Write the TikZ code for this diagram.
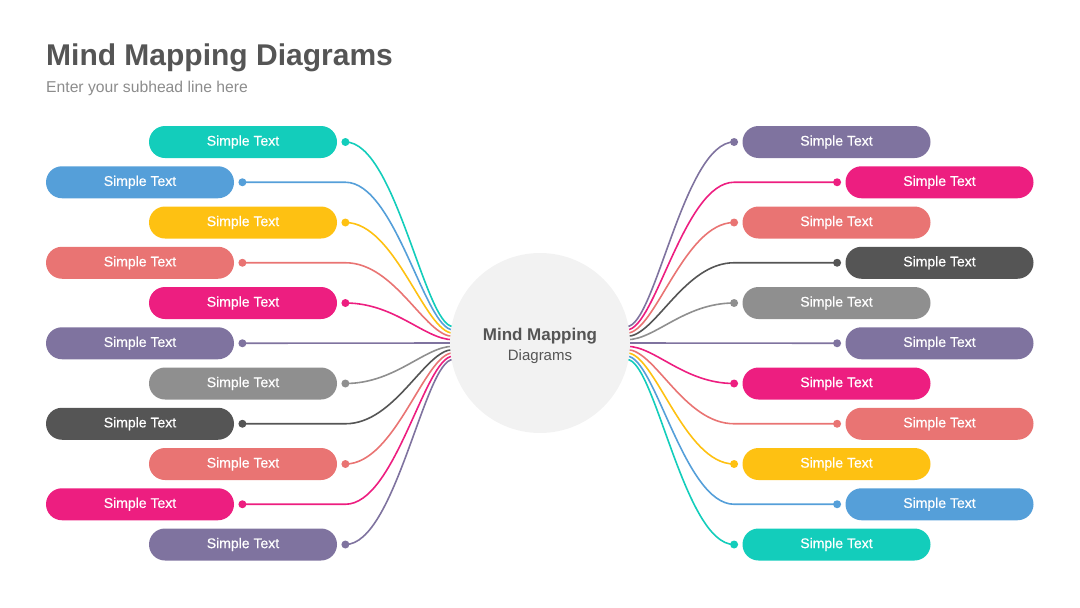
\documentclass[tikz,border=0pt]{standalone}
\usepackage{fontspec}
\setmainfont{Liberation Sans}
\newfontfamily\pillfont[FakeBold=0.5]{Liberation Sans}
\usepackage{xcolor}
\definecolor{cTeal}{HTML}{13CDBB}
\definecolor{cBlue}{HTML}{559FD9}
\definecolor{cYellow}{HTML}{FEC112}
\definecolor{cSalmon}{HTML}{E97473}
\definecolor{cPink}{HTML}{ED1E80}
\definecolor{cPurple}{HTML}{7F739F}
\definecolor{cGray}{HTML}{8F8F8F}
\definecolor{cDark}{HTML}{555555}
\definecolor{cHub}{HTML}{F2F2F2}
\definecolor{cTitle}{HTML}{555555}
\definecolor{cSub}{HTML}{8C8C8C}
\usepackage{tikz}
\usetikzlibrary{positioning,calc,backgrounds}
\tikzset{
  node-pill/.style={fill=#1,rounded corners=16pt,minimum width=188pt,
    minimum height=32pt,inner sep=0pt,text=white,font=\pillfont\fontsize{14}{16}\selectfont},
  node-dot/.style={circle,fill=#1,minimum size=8pt,inner sep=0pt},
  node-hub/.style={circle,fill=cHub,minimum size=180pt,inner sep=0pt,
    align=center,text=cTitle},
  wire/.style={draw=#1,line width=1.6pt},
  % S-curves into and out of the hub
  to-hub/.style={to path={.. controls ($(\tikztostart)+(50,0)$) and
    ($(\tikztotarget)+(-28,0)$) .. (\tikztotarget)}},
  from-hub/.style={to path={.. controls ($(\tikztostart)+(28,0)$) and
    ($(\tikztotarget)+(-50,0)$) .. (\tikztotarget)}},
}

\begin{document}
\begin{tikzpicture}[x=1pt,y=-1pt]
  \useasboundingbox (0,0) rectangle (1080,608);
  \node[anchor=base west,inner sep=0pt,text=cTitle,font=\fontsize{30}{36}\selectfont\bfseries] (title) at (46,65) {Mind Mapping Diagrams};
  \node[anchor=base west,inner sep=0pt,text=cSub,font=\fontsize{15.7}{18}\selectfont] (subtitle) at (46,92) {Enter your subhead line here};

  \node[node-hub,font=\fontsize{15}{20}\selectfont] (hub) at (540,343) {\rule{0pt}{19pt}{\fontsize{17}{20}\selectfont\bfseries Mind Mapping}\\Diagrams};

  % left branches
  \node[node-pill=cTeal]   (L0)  at (243,142)    {Simple Text};
  \node[node-pill=cBlue]   (L1)  at (140,182.25) {Simple Text};
  \node[node-pill=cYellow] (L2)  at (243,222.5)  {Simple Text};
  \node[node-pill=cSalmon] (L3)  at (140,262.75) {Simple Text};
  \node[node-pill=cPink]   (L4)  at (243,303)    {Simple Text};
  \node[node-pill=cPurple] (L5)  at (140,343.25) {Simple Text};
  \node[node-pill=cGray]   (L6)  at (243,383.5)  {Simple Text};
  \node[node-pill=cDark]   (L7)  at (140,423.75) {Simple Text};
  \node[node-pill=cSalmon] (L8)  at (243,464)    {Simple Text};
  \node[node-pill=cPink]   (L9)  at (140,504.25) {Simple Text};
  \node[node-pill=cPurple] (L10) at (243,544.5)  {Simple Text};

  \node[node-dot=cTeal,right=4pt of L0]    (dL0)  {};
  \node[node-dot=cBlue,right=4pt of L1]    (dL1)  {};
  \node[node-dot=cYellow,right=4pt of L2]  (dL2)  {};
  \node[node-dot=cSalmon,right=4pt of L3]  (dL3)  {};
  \node[node-dot=cPink,right=4pt of L4]    (dL4)  {};
  \node[node-dot=cPurple,right=4pt of L5]  (dL5)  {};
  \node[node-dot=cGray,right=4pt of L6]    (dL6)  {};
  \node[node-dot=cDark,right=4pt of L7]    (dL7)  {};
  \node[node-dot=cSalmon,right=4pt of L8]  (dL8)  {};
  \node[node-dot=cPink,right=4pt of L9]    (dL9)  {};
  \node[node-dot=cPurple,right=4pt of L10] (dL10) {};

  % right branches
  \node[node-pill=cPurple] (R0)  at (836.5,142)    {Simple Text};
  \node[node-pill=cPink]   (R1)  at (939.5,182.25) {Simple Text};
  \node[node-pill=cSalmon] (R2)  at (836.5,222.5)  {Simple Text};
  \node[node-pill=cDark]   (R3)  at (939.5,262.75) {Simple Text};
  \node[node-pill=cGray]   (R4)  at (836.5,303)    {Simple Text};
  \node[node-pill=cPurple] (R5)  at (939.5,343.25) {Simple Text};
  \node[node-pill=cPink]   (R6)  at (836.5,383.5)  {Simple Text};
  \node[node-pill=cSalmon] (R7)  at (939.5,423.75) {Simple Text};
  \node[node-pill=cYellow] (R8)  at (836.5,464)    {Simple Text};
  \node[node-pill=cBlue]   (R9)  at (939.5,504.25) {Simple Text};
  \node[node-pill=cTeal]   (R10) at (836.5,544.5)  {Simple Text};

  \node[node-dot=cPurple,left=4pt of R0]  (dR0)  {};
  \node[node-dot=cPink,left=4pt of R1]    (dR1)  {};
  \node[node-dot=cSalmon,left=4pt of R2]  (dR2)  {};
  \node[node-dot=cDark,left=4pt of R3]    (dR3)  {};
  \node[node-dot=cGray,left=4pt of R4]    (dR4)  {};
  \node[node-dot=cPurple,left=4pt of R5]  (dR5)  {};
  \node[node-dot=cPink,left=4pt of R6]    (dR6)  {};
  \node[node-dot=cSalmon,left=4pt of R7]  (dR7)  {};
  \node[node-dot=cYellow,left=4pt of R8]  (dR8)  {};
  \node[node-dot=cBlue,left=4pt of R9]    (dR9)  {};
  \node[node-dot=cTeal,left=4pt of R10]   (dR10) {};

  % ends on the hub rim
  \coordinate (eL0)  at ($(hub.center)+(-87,-16.5)$);
  \coordinate (eL1)  at ($(hub.center)+(-87,-13.2)$);
  \coordinate (eL2)  at ($(hub.center)+(-87,-9.9)$);
  \coordinate (eL3)  at ($(hub.center)+(-87,-6.6)$);
  \coordinate (eL4)  at ($(hub.center)+(-87,-3.3)$);
  \coordinate (eL5)  at ($(hub.center)+(-87,0)$);
  \coordinate (eL6)  at ($(hub.center)+(-87,3.3)$);
  \coordinate (eL7)  at ($(hub.center)+(-87,6.6)$);
  \coordinate (eL8)  at ($(hub.center)+(-87,9.9)$);
  \coordinate (eL9)  at ($(hub.center)+(-87,13.2)$);
  \coordinate (eL10) at ($(hub.center)+(-87,16.5)$);
  \coordinate (eR0)  at ($(hub.center)+(87,-16.5)$);
  \coordinate (eR1)  at ($(hub.center)+(87,-13.2)$);
  \coordinate (eR2)  at ($(hub.center)+(87,-9.9)$);
  \coordinate (eR3)  at ($(hub.center)+(87,-6.6)$);
  \coordinate (eR4)  at ($(hub.center)+(87,-3.3)$);
  \coordinate (eR5)  at ($(hub.center)+(87,0)$);
  \coordinate (eR6)  at ($(hub.center)+(87,3.3)$);
  \coordinate (eR7)  at ($(hub.center)+(87,6.6)$);
  \coordinate (eR8)  at ($(hub.center)+(87,9.9)$);
  \coordinate (eR9)  at ($(hub.center)+(87,13.2)$);
  \coordinate (eR10) at ($(hub.center)+(87,16.5)$);

  \begin{scope}[on background layer]
    \draw[wire=cTeal]   (dL0.center) to[to-hub] (eL0);
    \draw[wire=cBlue]   (dL1.center) -- (dL1 -| dL0) to[to-hub] (eL1);
    \draw[wire=cYellow] (dL2.center) to[to-hub] (eL2);
    \draw[wire=cSalmon] (dL3.center) -- (dL3 -| dL0) to[to-hub] (eL3);
    \draw[wire=cPink]   (dL4.center) to[to-hub] (eL4);
    \draw[wire=cPurple] (dL5.center) -- (eL5);
    \draw[wire=cGray]   (dL6.center) to[to-hub] (eL6);
    \draw[wire=cDark]   (dL7.center) -- (dL7 -| dL0) to[to-hub] (eL7);
    \draw[wire=cSalmon] (dL8.center) to[to-hub] (eL8);
    \draw[wire=cPink]   (dL9.center) -- (dL9 -| dL0) to[to-hub] (eL9);
    \draw[wire=cPurple] (dL10.center) to[to-hub] (eL10);

    \draw[wire=cPurple] (eR0) to[from-hub] (dR0.center);
    \draw[wire=cPink]   (eR1) to[from-hub] (dR1 -| dR0) -- (dR1.center);
    \draw[wire=cSalmon] (eR2) to[from-hub] (dR2.center);
    \draw[wire=cDark]   (eR3) to[from-hub] (dR3 -| dR0) -- (dR3.center);
    \draw[wire=cGray]   (eR4) to[from-hub] (dR4.center);
    \draw[wire=cPurple] (eR5) -- (dR5.center);
    \draw[wire=cPink]   (eR6) to[from-hub] (dR6.center);
    \draw[wire=cSalmon] (eR7) to[from-hub] (dR7 -| dR0) -- (dR7.center);
    \draw[wire=cYellow] (eR8) to[from-hub] (dR8.center);
    \draw[wire=cBlue]   (eR9) to[from-hub] (dR9 -| dR0) -- (dR9.center);
    \draw[wire=cTeal]   (eR10) to[from-hub] (dR10.center);
  \end{scope}
\end{tikzpicture}
\end{document}
